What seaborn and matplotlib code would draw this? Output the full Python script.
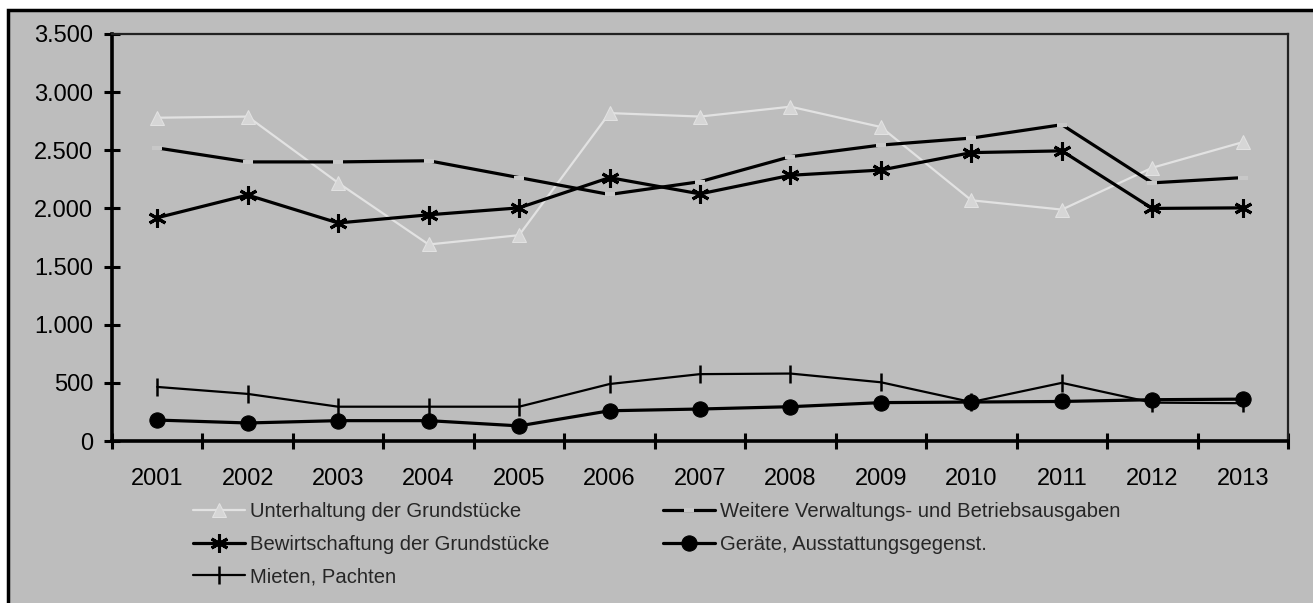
import pandas as pd
import seaborn as sns
import matplotlib.pyplot as plt
from matplotlib.patches import Rectangle
from matplotlib.ticker import FuncFormatter, FixedLocator

years = [str(y) for y in range(2001, 2014)]
unterhaltung = [2780, 2790, 2220, 1690, 1770, 2820, 2790, 2875, 2700, 2070, 1990, 2350, 2570]
weitere = [2520, 2400, 2400, 2410, 2265, 2120, 2230, 2445, 2545, 2605, 2720, 2220, 2265]
bewirtschaftung = [1920, 2115, 1875, 1945, 2005, 2265, 2125, 2285, 2330, 2480, 2495, 2000, 2005]
mieten = [465, 405, 295, 295, 295, 490, 575, 580, 505, 335, 500, 330, 325]
geraete = [180, 155, 175, 175, 130, 260, 275, 295, 330, 335, 340, 355, 360]

labels = [
    "Unterhaltung der Grundstücke",
    "Weitere Verwaltungs- und Betriebsausgaben",
    "Bewirtschaftung der Grundstücke",
    "Geräte, Ausstattungsgegenst.",
    "Mieten, Pachten",
]

sns.set_style("white")
plt.rcParams["font.family"] = ["Liberation Sans", "DejaVu Sans"]

bg = "#bdbdbd"
fig = plt.figure(figsize=(13.13, 6.03), dpi=100, facecolor="white")
# grey scanned-page panel with a black frame
fig.patches.append(Rectangle((8 / 1313, -0.01), 1.02, 1 - 10 / 603 + 0.01,
                             transform=fig.transFigure, facecolor=bg,
                             edgecolor="black", linewidth=2.5, zorder=-10))
ax = fig.add_axes([112 / 1313, 1 - 441 / 603, (1288 - 112) / 1313, (441 - 34) / 603])
ax.set_facecolor(bg)

df = pd.DataFrame({"Jahr": years, "unt": unterhaltung, "wei": weitere,
                   "bew": bewirtschaftung, "mie": mieten, "ger": geraete})

sns.lineplot(data=df, x="Jahr", y="unt", ax=ax, color="#e2e2e2", linewidth=1.6,
             marker="^", markersize=10, markeredgecolor="#e2e2e2",
             markerfacecolor="#d6d6d6", label=labels[0], sort=False)
sns.lineplot(data=df, x="Jahr", y="bew", ax=ax, color="black", linewidth=2.3,
             marker=(6, 2, 0), markersize=13, markeredgewidth=2.2,
             markeredgecolor="black", label=labels[2], sort=False)
sns.lineplot(data=df, x="Jahr", y="mie", ax=ax, color="black", linewidth=1.6,
             marker="|", markersize=13, markeredgewidth=1.8,
             markeredgecolor="black", label=labels[4], sort=False)
sns.lineplot(data=df, x="Jahr", y="wei", ax=ax, color="black", linewidth=2.3,
             marker="_", markersize=7, markeredgewidth=3,
             markeredgecolor="#c8c8c8", label=labels[1], sort=False)
sns.lineplot(data=df, x="Jahr", y="ger", ax=ax, color="black", linewidth=2.3,
             marker="o", markersize=11, markeredgecolor="black",
             markerfacecolor="black", label=labels[3], sort=False)

ax.set_xlim(-0.5, len(years) - 0.5)
ax.set_ylim(0, 3500)
ax.set_yticks(range(0, 3501, 500))
ax.yaxis.set_major_formatter(FuncFormatter(lambda v, p: f"{int(v):,}".replace(",", ".")))
ax.set_xlabel("")
ax.set_ylabel("")

ax.xaxis.set_minor_locator(FixedLocator([i - 0.5 for i in range(len(years) + 1)]))
ax.tick_params(axis="x", which="major", length=0, pad=19.5, labelsize=17, colors="black")
ax.tick_params(axis="x", which="minor", direction="inout", length=12, width=2.2,
               color="black", bottom=True)
ax.tick_params(axis="y", direction="inout", length=11, width=2.2, pad=8,
               labelsize=17, colors="black", left=True)

for side in ["left", "bottom"]:
    ax.spines[side].set_linewidth(2.6)
    ax.spines[side].set_color("black")
for side in ["top", "right"]:
    ax.spines[side].set_visible(True)
    ax.spines[side].set_linewidth(1.6)
    ax.spines[side].set_color("#222222")

handles, lbls = ax.get_legend_handles_labels()
ax.get_legend().remove()
hmap = dict(zip(lbls, handles))

leg_kw = dict(frameon=False, loc="upper left", fontsize=14.6, handlelength=2.56,
              handletextpad=0.25, labelspacing=0.68, borderpad=0, borderaxespad=0)
col1 = [labels[0], labels[2], labels[4]]
col2 = [labels[1], labels[3]]
fig.legend([hmap[l] for l in col1], col1,
           bbox_to_anchor=(193 / 1313, 1 - 502 / 603), **leg_kw)
fig.legend([hmap[l] for l in col2], col2,
           bbox_to_anchor=(663 / 1313, 1 - 502 / 603), **leg_kw)

fig.savefig("out.png", dpi=100, facecolor="white")
